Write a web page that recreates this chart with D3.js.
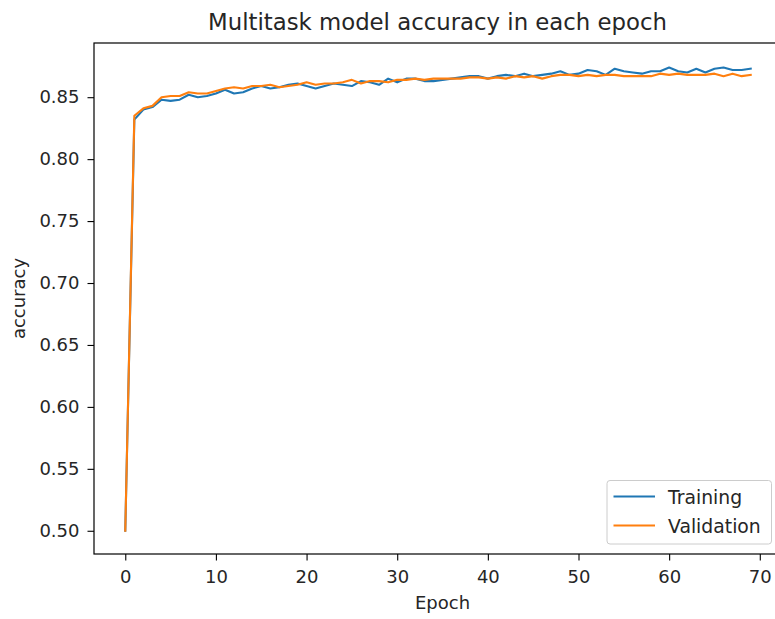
<!DOCTYPE html>
<html><head><meta charset="utf-8">
<script src="https://cdn.jsdelivr.net/npm/d3@7/dist/d3.min.js"></script>
<style>body{margin:0;background:#fff;} svg{display:block;font-family:"DejaVu Sans",sans-serif;}</style>
</head><body><svg id="c" width="775" height="619"></svg>
<script>
const epochs = d3.range(0, 70);
const training = [0.500,0.832,0.840,0.842,0.848,0.847,0.848,0.852,0.850,0.851,
0.853,0.856,0.853,0.854,0.857,0.859,0.857,0.858,0.860,0.861,
0.859,0.857,0.859,0.861,0.860,0.859,0.863,0.862,0.860,0.865,
0.862,0.865,0.865,0.863,0.863,0.864,0.865,0.866,0.867,0.867,
0.865,0.867,0.868,0.867,0.869,0.867,0.868,0.869,0.871,0.868,
0.869,0.872,0.871,0.868,0.873,0.871,0.870,0.869,0.871,0.871,
0.874,0.871,0.870,0.873,0.870,0.873,0.874,0.872,0.872,0.873];
const validation = [0.500,0.835,0.841,0.843,0.850,0.851,0.851,0.854,0.853,0.853,
0.855,0.857,0.858,0.857,0.859,0.859,0.860,0.858,0.859,0.860,
0.862,0.860,0.861,0.861,0.862,0.864,0.861,0.863,0.863,0.862,
0.864,0.864,0.865,0.864,0.865,0.865,0.865,0.865,0.866,0.866,
0.865,0.866,0.865,0.867,0.866,0.867,0.865,0.867,0.868,0.868,
0.867,0.868,0.867,0.868,0.868,0.867,0.867,0.867,0.867,0.869,
0.868,0.869,0.868,0.868,0.868,0.869,0.867,0.869,0.867,0.868];
const xTicks = [0,10,20,30,40,50,60,70];
const yTicks = [0.50,0.55,0.60,0.65,0.70,0.75,0.80,0.85];
const seriesNames = ["Training","Validation"];
const colors = ["#1f77b4","#ff7f0e"];

const svg = d3.select("#c");
const L = 94, R = 782, T = 43, B = 554;
const x = d3.scaleLinear().domain([-3.45, 72.45]).range([L, R]);
const y = d3.scaleLinear().domain([0.48125, 0.89375]).range([B, T]);

const line = d3.line().x((d,i)=>x(epochs[i])).y(d=>y(d));
[training, validation].forEach((s,k)=>{
  svg.append("path").datum(s).attr("d", line).attr("fill","none")
    .attr("stroke", colors[k]).attr("stroke-width",2.1).attr("stroke-linejoin","round").attr("stroke-linecap","square");
});

const xa = svg.append("g").attr("transform",`translate(0,${B})`)
  .call(d3.axisBottom(x).tickValues(xTicks).tickFormat(d3.format("d")).tickSize(6.5).tickPadding(7));
const ya = svg.append("g").attr("transform",`translate(${L},0)`)
  .call(d3.axisLeft(y).tickValues(yTicks).tickFormat(d3.format(".2f")).tickSize(6.5).tickPadding(8));
[xa,ya].forEach(a=>{
  a.select(".domain").remove();
  a.selectAll("line").attr("stroke","#000").attr("stroke-width",1.1);
  a.selectAll("text").attr("font-size",18).attr("fill","#262626").attr("font-family","DejaVu Sans");
});
xa.selectAll("text").attr("dy","0.85em");

svg.append("rect").attr("x",L).attr("y",T).attr("width",R-L).attr("height",B-T)
  .attr("fill","none").attr("stroke","#000").attr("stroke-width",1.2);

svg.append("text").attr("x",437.5).attr("y",29.5).attr("text-anchor","middle")
  .attr("font-size",22.8).attr("fill","#262626").text("Multitask model accuracy in each epoch");
svg.append("text").attr("x",x(35)).attr("y",609).attr("text-anchor","middle")
  .attr("font-size",18).attr("fill","#262626").text("Epoch");
svg.append("text").attr("transform",`translate(25,${(T+B)/2}) rotate(-90)`).attr("text-anchor","middle")
  .attr("font-size",18).attr("fill","#262626").text("accuracy");

const lg = svg.append("g");
lg.append("rect").attr("x",607).attr("y",480.5).attr("width",164.5).attr("height",63.5).attr("rx",3)
  .attr("fill","#fff").attr("fill-opacity",0.8).attr("stroke","#ccc");
seriesNames.forEach((n,k)=>{
  const yy = 496.5 + k*29;
  lg.append("line").attr("x1",613.5).attr("x2",655).attr("y1",yy).attr("y2",yy)
    .attr("stroke",colors[k]).attr("stroke-width",2.1);
  lg.append("text").attr("x",668).attr("y",yy+7).attr("font-size",18.8).attr("fill","#262626").text(n);
});
</script></body></html>
